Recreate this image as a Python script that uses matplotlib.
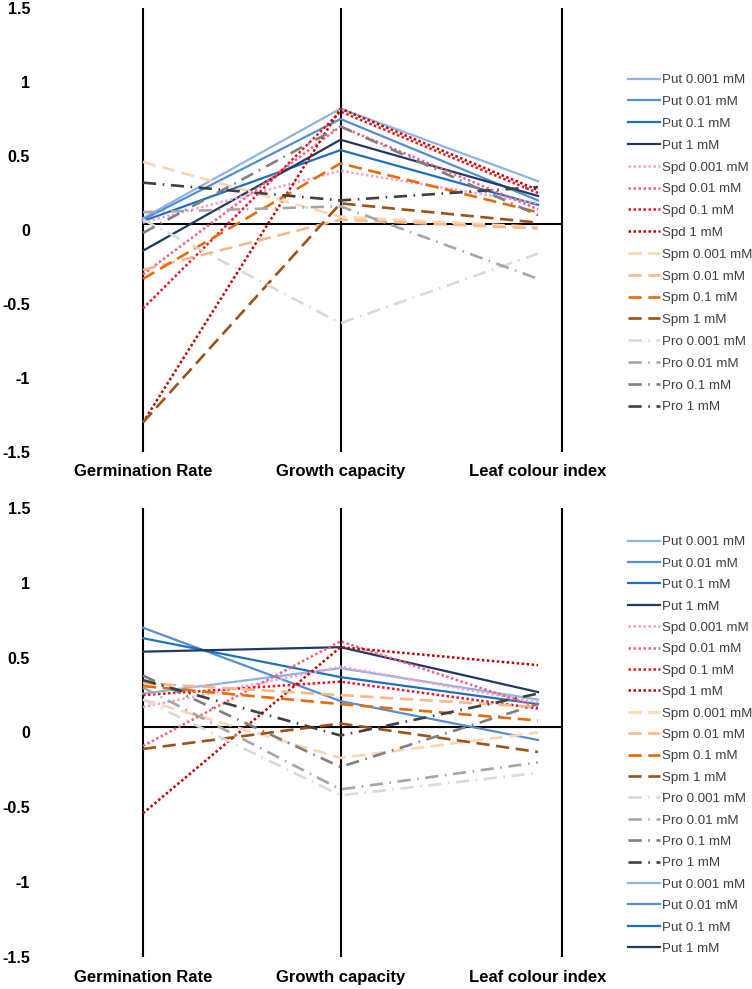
import matplotlib
matplotlib.use("Agg")
import matplotlib.pyplot as plt
from matplotlib.lines import Line2D

plt.rcParams['font.family'] = ['Liberation Sans', 'DejaVu Sans']

categories = ['Germination Rate', 'Growth capacity', 'Leaf colour index']
yticks = [1.5, 1, 0.5, 0, -0.5, -1, -1.5]
ytick_labels = ['1.5', '1', '0.5', '0', '-0.5', '-1', '-1.5']

series_labels = ['Put 0.001 mM', 'Put 0.01 mM', 'Put 0.1 mM', 'Put 1 mM',
                 'Spd 0.001 mM', 'Spd 0.01 mM', 'Spd 0.1 mM', 'Spd 1 mM',
                 'Spm 0.001 mM', 'Spm 0.01 mM', 'Spm 0.1 mM', 'Spm 1 mM',
                 'Pro 0.001 mM', 'Pro 0.01 mM', 'Pro 0.1 mM', 'Pro 1 mM']

# top panel values
top_put_0001 = [0.08, 0.82, 0.33]
top_put_001 = [0.07, 0.75, 0.20]
top_put_01 = [0.06, 0.54, 0.17]
top_put_1 = [-0.14, 0.61, 0.23]
top_spd_0001 = [0.05, 0.40, 0.18]
top_spd_001 = [-0.30, 0.70, 0.14]
top_spd_01 = [-0.53, 0.80, 0.25]
top_spd_1 = [-1.30, 0.82, 0.27]
top_spm_0001 = [0.46, 0.09, 0.02]
top_spm_001 = [-0.27, 0.07, 0.01]
top_spm_01 = [-0.33, 0.45, 0.12]
top_spm_1 = [-1.30, 0.18, 0.05]
top_pro_0001 = [0.07, -0.63, -0.16]
top_pro_001 = [0.12, 0.16, -0.33]
top_pro_01 = [-0.02, 0.70, 0.10]
top_pro_1 = [0.32, 0.20, 0.29]

# bottom panel values
bot_put_0001 = [0.26, 0.43, 0.22]
bot_put_001 = [0.70, 0.21, -0.05]
bot_put_01 = [0.63, 0.37, 0.19]
bot_put_1 = [0.54, 0.57, 0.27]
bot_spd_0001 = [0.17, 0.44, 0.20]
bot_spd_001 = [-0.09, 0.61, 0.17]
bot_spd_01 = [0.25, 0.34, 0.16]
bot_spd_1 = [-0.54, 0.57, 0.45]
bot_spm_0001 = [0.22, -0.17, 0.00]
bot_spm_001 = [0.33, 0.25, 0.17]
bot_spm_01 = [0.31, 0.19, 0.08]
bot_spm_1 = [-0.11, 0.06, -0.13]
bot_pro_0001 = [0.22, -0.42, -0.27]
bot_pro_001 = [0.30, -0.38, -0.20]
bot_pro_01 = [0.38, -0.23, 0.19]
bot_pro_1 = [0.35, -0.02, 0.26]

top_values = [top_put_0001, top_put_001, top_put_01, top_put_1,
              top_spd_0001, top_spd_001, top_spd_01, top_spd_1,
              top_spm_0001, top_spm_001, top_spm_01, top_spm_1,
              top_pro_0001, top_pro_001, top_pro_01, top_pro_1]
bot_values = [bot_put_0001, bot_put_001, bot_put_01, bot_put_1,
              bot_spd_0001, bot_spd_001, bot_spd_01, bot_spd_1,
              bot_spm_0001, bot_spm_001, bot_spm_01, bot_spm_1,
              bot_pro_0001, bot_pro_001, bot_pro_01, bot_pro_1]
extra_labels = ['Put 0.001 mM', 'Put 0.01 mM', 'Put 0.1 mM', 'Put 1 mM']

colors = ['#8eb4e3', '#558ed5', '#1f6fc0', '#1f3864',
          '#f7a1c8', '#f2607f', '#e8141e', '#c00000',
          '#fcd5b4', '#f7b98a', '#e46c0a', '#9c5317',
          '#d9d9d9', '#a6a6a6', '#7f7f7f', '#404040']

SOLID = '-'
DOT = (0, (1, 1))
LDASH = (0, (5, 2.5))
LDASHDOT = (0, (5, 2.5, 0.6, 2.5))
styles = [SOLID] * 4 + [DOT] * 4 + [LDASH] * 4 + [LDASHDOT] * 4
widths = [1.6] * 4 + [1.8] * 4 + [1.9] * 4 + [1.9] * 4

fig = plt.figure(figsize=(7.52, 9.89), dpi=100)
W, H = 752, 989

def make_axes(top_px, bot_px):
    left_px = 143 - 0.55 * 197.5
    right_px = 143 + 2.3 * 197.5
    return fig.add_axes([left_px / W, 1 - bot_px / H,
                         (right_px - left_px) / W, (bot_px - top_px) / H])

def draw_panel(ax, values):
    xs = list(range(len(categories)))
    ax.set_xlim(-0.55, 2.3)
    ax.set_ylim(-1.5, 1.5)
    for s in ax.spines.values():
        s.set_visible(False)
    ax.set_xticks([])
    ax.set_yticks(yticks)
    ax.set_yticklabels(ytick_labels, fontsize=11.5, fontweight='bold')
    ax.tick_params(axis='y', length=0, pad=3)
    for xv in [0, 1, 2.12]:
        ax.plot([xv, xv], [-1.5, 1.5], color='black', lw=1.5, zorder=1,
                solid_capstyle='butt', clip_on=False)
    ax.plot([0, 2.12], [0.04, 0.04], color='black', lw=1.5, zorder=1)
    lines = []
    for vals, c, ls, lw, lab in zip(values, colors, styles, widths, series_labels):
        ln, = ax.plot(xs, vals, color=c, linestyle=ls, lw=lw, label=lab, zorder=2)
        lines.append(ln)
    for i, cat in enumerate(categories):
        ax.text(i, -1.635, cat, ha='center', va='center', fontsize=12,
                fontweight='bold', clip_on=False)
    return lines

ax1 = make_axes(8, 452)
lines1 = draw_panel(ax1, top_values)
ax2 = make_axes(508, 957)
lines2 = draw_panel(ax2, bot_values)

extra = [Line2D([], [], color=colors[i], linestyle=styles[i], lw=widths[i])
         for i in range(4)]

leg_kw = dict(loc='upper left', frameon=False, fontsize=9.6, borderpad=0,
              handlelength=2.4, handletextpad=0.15, borderaxespad=0,
              labelcolor='#404040')
fig.legend(lines1, series_labels, bbox_to_anchor=(628 / W, 1 - 74 / H),
           labelspacing=0.71, **leg_kw)
fig.legend(lines2 + extra, series_labels + extra_labels,
           bbox_to_anchor=(628 / W, 1 - 536 / H), labelspacing=0.68, **leg_kw)

fig.savefig('out.png', dpi=100)
